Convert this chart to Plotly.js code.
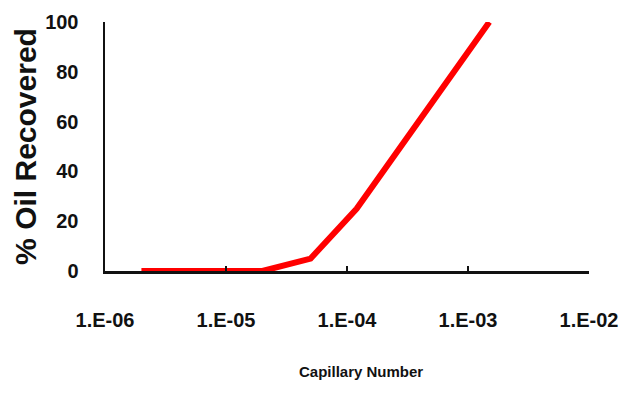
<!DOCTYPE html>
<html>
<head>
<meta charset="utf-8">
<script src="https://cdn.plot.ly/plotly-3.0.1.min.js"></script>
<style>html,body{margin:0;padding:0;background:#fff;}#chart{width:638px;height:394px;}</style>
</head>
<body>
<div id="chart"></div>
<script>
// Data
const capillaryNumber = [2e-6, 2e-5, 5e-5, 1.2e-4, 1.5e-3];
const oilRecovered = [0, 0, 5, 25, 100];
const xTickVals = [1e-6, 1e-5, 1e-4, 1e-3, 1e-2];
const xTickLabels = ['1.E-06', '1.E-05', '1.E-04', '1.E-03', '1.E-02'];
const yTickVals = [0, 20, 40, 60, 80, 100];
const xTitle = 'Capillary Number';
const yTitle = '% Oil Recovered';

const sans = '"Liberation Sans", Arial, sans-serif';

const trace = {
  x: capillaryNumber,
  y: oilRecovered,
  type: 'scatter',
  mode: 'lines',
  line: {color: '#ff0000', width: 6},
  hoverinfo: 'skip'
};

const layout = {
  width: 638,
  height: 394,
  margin: {l: 105, r: 49, t: 22, b: 123},
  paper_bgcolor: '#ffffff',
  plot_bgcolor: '#ffffff',
  showlegend: false,
  xaxis: {
    type: 'log',
    range: [-6, -2],
    tickvals: xTickVals,
    ticktext: xTickLabels,
    ticks: 'inside',
    ticklen: 5,
    tickwidth: 1.5,
    tickcolor: '#111',
    showline: true,
    linecolor: '#111',
    linewidth: 3,
    showgrid: false,
    zeroline: false,
    ticklabelstandoff: 29,
    tickfont: {family: sans, size: 20, color: '#111', weight: 'bold'}
  },
  yaxis: {
    range: [0, 100],
    tickvals: yTickVals,
    ticks: '',
    showline: true,
    linecolor: '#111',
    linewidth: 2.5,
    showgrid: false,
    zeroline: false,
    ticklabelstandoff: 20,
    tickfont: {family: sans, size: 20, color: '#111', weight: 'bold'},
    title: {text: yTitle, font: {family: sans, size: 30, color: '#111', weight: 'bold'}, standoff: 0}
  },
  annotations: [{
    text: xTitle,
    xref: 'paper', yref: 'paper',
    x: (361 - 105) / 484, y: (394 - 123 - 371) / 249,
    xanchor: 'center', yanchor: 'middle',
    showarrow: false,
    font: {family: sans, size: 15, color: '#111', weight: 'bold'}
  }]
};

Plotly.newPlot('chart', [trace], layout, {staticPlot: true, displayModeBar: false});
</script>
</body>
</html>
